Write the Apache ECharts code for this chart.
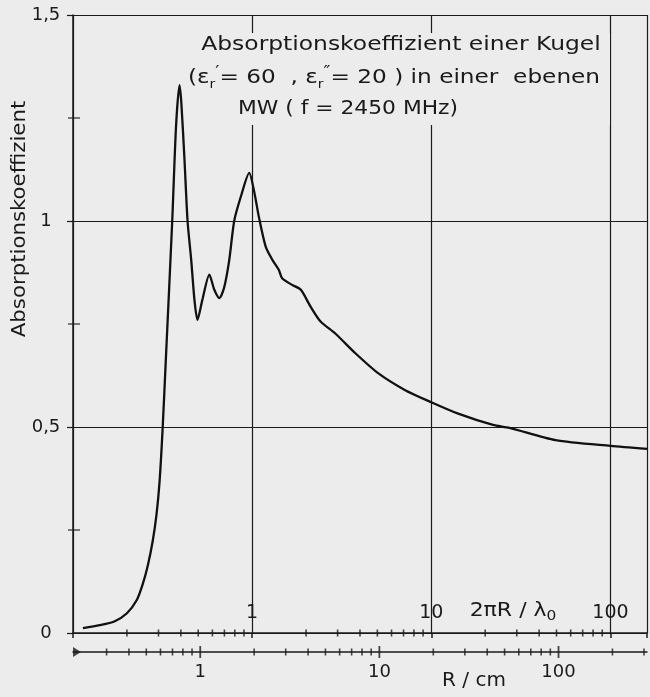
<!DOCTYPE html>
<html><head><meta charset="utf-8">
<script src="https://cdn.jsdelivr.net/npm/echarts@6/dist/echarts.min.js"></script>
<style>html,body{margin:0;padding:0;background:#ececec}#c{width:650px;height:697px}</style>
</head><body><div id="c"></div>
<script>
// 2πR/λ0 (top axis scale) and absorption coefficient
const kr = [0.1136, 0.141, 0.17, 0.2, 0.227, 0.2448, 0.261, 0.2783, 0.2929, 0.3043, 0.3162, 0.3307, 0.358, 0.376, 0.393, 0.402, 0.419, 0.436, 0.457, 0.476, 0.495, 0.527, 0.577, 0.615, 0.656, 0.699, 0.745, 0.794, 0.866, 0.963, 1.03, 1.09, 1.19, 1.30, 1.41, 1.47, 1.67, 1.87, 2.12, 2.41, 2.91, 3.77, 5.07, 7.11, 10, 14, 22.1, 27.3, 49.4, 100, 160];
const absorption = [0.012, 0.019, 0.028, 0.048, 0.080, 0.118, 0.162, 0.222, 0.290, 0.368, 0.493, 0.675, 1.0, 1.23, 1.33, 1.29, 1.15, 1.0, 0.905, 0.81, 0.76, 0.808, 0.87, 0.833, 0.813, 0.84, 0.905, 1.0, 1.06, 1.117, 1.068, 1.01, 0.938, 0.905, 0.881, 0.861, 0.845, 0.833, 0.792, 0.756, 0.727, 0.679, 0.630, 0.590, 0.560, 0.533, 0.505, 0.498, 0.468, 0.454, 0.447];

const kTickLabels = ['1', '10', '100'];
const rTickLabels = ['1', '10', '100'];
const yTickLabels = ['0', '0,5', '1', '1,5'];
const kMinorTicks = [0.2,0.3,0.4,0.5,0.6,0.7,0.8,0.9, 2,3,4,5,6,7,8,9, 20,30,40,50,60,70,80,90];
const rMinorTicks = [0.3,0.4,0.5,0.6,0.7,0.8,0.9, 2,3,4,5,6,7,8,9, 20,30,40,50,60,70,80,90, 200,300];
const rMajorTicks = [1, 10, 100];
const yMinorTicks = [0.25, 0.75, 1.25];

const kMin = 0.1, kMax = 160;
const lambda0 = 30 / 2.45;           // cm at 2450 MHz
const kPerR = 2 * Math.PI / lambda0;
const rMin = kMin / kPerR, rMax = kMax / kPerR;

const INK = '#1a1a1a';
const BG = '#ececec';
const FONT = 'DejaVu Sans';

function labelFor(list) {
  return function (v) {
    for (const s of list) {
      const n = Number(s.replace(',', '.'));
      if (Math.abs(n - v) < 1e-6 * Math.max(1, n)) return s;
    }
    return '';
  };
}

const chart = echarts.init(document.getElementById('c'), null, {renderer: 'canvas'});
chart.setOption({
  backgroundColor: BG,
  animation: false,
  textStyle: {fontFamily: FONT, color: INK},
  grid: [
    {left: 73, right: 0, top: 15, bottom: 64, containLabel: false},
    {left: 73, right: 0, top: 642, height: 10, containLabel: false}
  ],
  xAxis: [
    {
      type: 'log', logBase: 10, min: kMin, max: kMax, gridIndex: 0, position: 'bottom',
      axisLine: {show: true, lineStyle: {color: INK, width: 1.5}},
      axisTick: {show: true, length: 5, lineStyle: {color: INK, width: 1.5}},
      axisLabel: {inside: true, margin: 10, fontSize: 19, fontFamily: FONT, color: INK,
                  formatter: labelFor(kTickLabels)},
      splitLine: {show: true, lineStyle: {color: INK, width: 1.2}}
    },
    {
      type: 'log', logBase: 10, min: rMin, max: rMax, gridIndex: 1, position: 'bottom',
      axisLine: {show: true, lineStyle: {color: INK, width: 1.5}},
      axisTick: {show: false},
      axisLabel: {margin: 11, fontSize: 18, fontFamily: FONT, color: INK,
                  formatter: labelFor(rTickLabels)},
      splitLine: {show: false}
    }
  ],
  yAxis: [
    {
      type: 'value', min: 0, max: 1.5, interval: 0.5, gridIndex: 0,
      axisLine: {show: true, lineStyle: {color: INK, width: 1.5}},
      axisTick: {show: true, length: 6, lineStyle: {color: INK, width: 1.2}},
      axisLabel: {margin: 27, align: 'center', fontSize: 18, fontFamily: FONT, color: INK,
                  formatter: function (v) { return yTickLabels[Math.round(v / 0.5)] || ''; }},
      splitLine: {show: true, lineStyle: {color: INK, width: 1.2}}
    },
    {type: 'value', min: 0, max: 1, gridIndex: 1, show: false}
  ],
  series: [
    {
      type: 'line', xAxisIndex: 0, yAxisIndex: 0, z: 5,
      data: kr.map((k, i) => [k, absorption[i]]),
      showSymbol: false, smooth: 0.25,
      lineStyle: {color: '#111', width: 2.3}
    },
    {
      type: 'scatter', xAxisIndex: 0, yAxisIndex: 0, clip: false, z: 4, silent: true,
      data: kMinorTicks.map(v => [v, 0]),
      symbol: 'rect', symbolSize: [1.6, 7], itemStyle: {color: INK}
    },
    {
      type: 'scatter', xAxisIndex: 0, yAxisIndex: 0, clip: false, z: 4, silent: true,
      data: yMinorTicks.map(v => [kMin, v]),
      symbol: 'rect', symbolSize: [12, 1.4], symbolOffset: [1, 0], itemStyle: {color: INK}
    },
    {
      type: 'scatter', xAxisIndex: 1, yAxisIndex: 1, clip: false, z: 4, silent: true,
      data: rMinorTicks.map(v => [v, 0]),
      symbol: 'rect', symbolSize: [1.6, 7], itemStyle: {color: INK}
    },
    {
      type: 'scatter', xAxisIndex: 1, yAxisIndex: 1, clip: false, z: 4, silent: true,
      data: rMajorTicks.map(v => [v, 0]),
      symbol: 'rect', symbolSize: [1.8, 12], itemStyle: {color: INK}
    },
    {
      type: 'scatter', xAxisIndex: 1, yAxisIndex: 1, clip: false, z: 4, silent: true,
      data: [[rMin, 0]],
      symbol: 'triangle', symbolRotate: -90, symbolSize: [10, 8], symbolOffset: [4, 0],
      itemStyle: {color: INK}
    }
  ],
  graphic: [
    {type: 'rect', z: 1, shape: {x: 188, y: 33, width: 422, height: 92},
     style: {fill: BG}},
    {type: 'text', z: 10, x: 401, y: 45, scaleX: 1.17,
     style: {text: 'Absorptionskoeffizient einer Kugel', font: '20px "DejaVu Sans"', fill: INK,
             align: 'center', verticalAlign: 'middle'}},
    {type: 'text', z: 10, x: 394, y: 78, scaleX: 1.16,
     style: {text: '{n|(ε}{s|r}{p|′}{n|= 60  , ε}{s|r}{p|″}{n|= 20 ) in einer  ebenen}',
             fill: INK, align: 'center', verticalAlign: 'middle',
             rich: {
               n: {fontSize: 20, fontFamily: FONT, color: INK, lineHeight: 26},
               s: {fontSize: 12, fontFamily: FONT, color: INK, lineHeight: 26, verticalAlign: 'bottom'},
               p: {fontSize: 16, fontFamily: FONT, color: INK, lineHeight: 26, verticalAlign: 'top'}
             }}},
    {type: 'text', z: 10, x: 348, y: 109, scaleX: 1.09,
     style: {text: 'MW ( f = 2450 MHz)', font: '20px "DejaVu Sans"', fill: INK,
             align: 'center', verticalAlign: 'middle'}},
    {type: 'text', z: 10, x: 20, y: 219, rotation: Math.PI / 2, scaleX: 1.12,
     style: {text: 'Absorptionskoeffizient', font: '19px "DejaVu Sans"', fill: INK,
             align: 'center', verticalAlign: 'middle'}},
    {type: 'text', z: 10, x: 513, y: 611, scaleX: 1.1,
     style: {text: '{n|2πR / λ}{s|0}', fill: INK, align: 'center', verticalAlign: 'middle',
             rich: {
               n: {fontSize: 20, fontFamily: FONT, color: INK, lineHeight: 24},
               s: {fontSize: 14, fontFamily: FONT, color: INK, lineHeight: 24, verticalAlign: 'bottom'}
             }}},
    {type: 'text', z: 10, x: 474, y: 681,
     style: {text: 'R / cm', font: '20px "DejaVu Sans"', fill: INK,
             align: 'center', verticalAlign: 'middle'}}
  ]
});
</script>
</body></html>
